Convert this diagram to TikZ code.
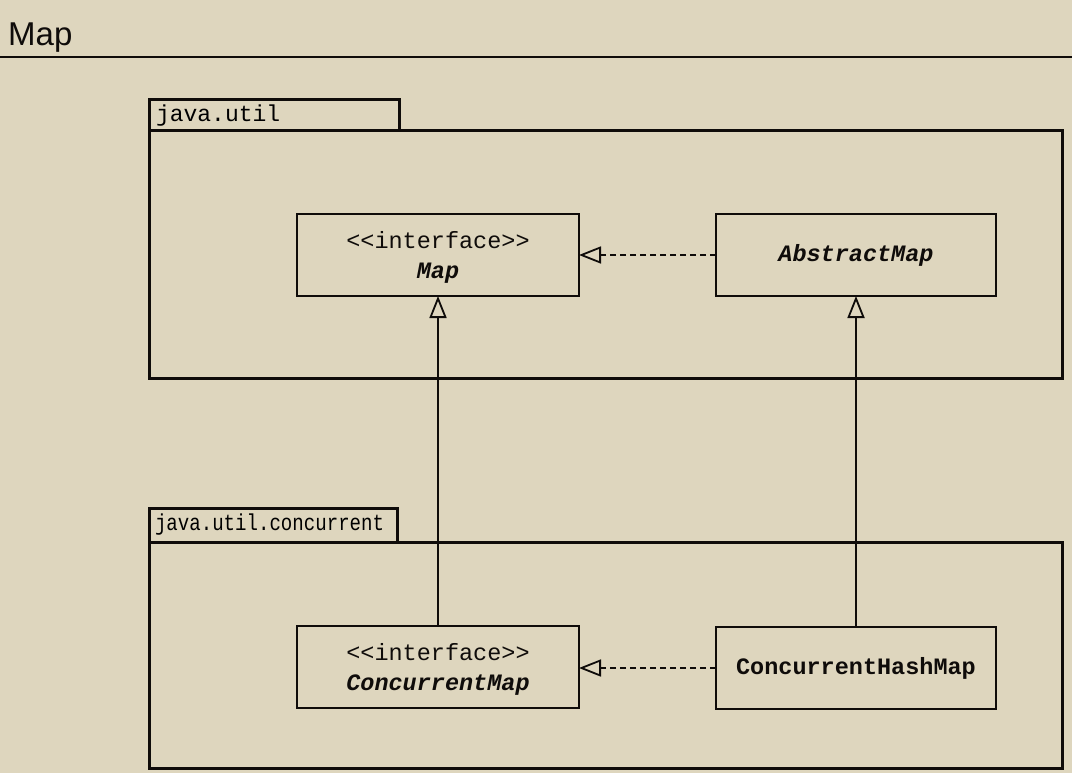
\documentclass[tikz,border=0pt]{standalone}
\usepackage{fontspec}
\setmainfont{Liberation Sans}
\newfontfamily\codefont{Liberation Mono}
\newfontfamily\codecond[FakeStretch=0.83]{Liberation Mono}
\usetikzlibrary{arrows.meta}
\definecolor{bg}{RGB}{222,214,190}
\definecolor{ink}{RGB}{15,12,10}
\tikzset{
  pkgtab/.style={draw=ink, line width=3pt, anchor=north west, inner xsep=0pt, inner ysep=0pt, outer sep=0pt,
    minimum height=#1, align=left},
  pkgbody/.style={draw=ink, line width=3pt, anchor=north west, inner sep=0pt, outer sep=0pt},
  classbox/.style={draw=ink, line width=2pt, anchor=north west, inner sep=0pt, outer sep=0pt,
    font=\codefont\fontsize{23.5}{30}\selectfont, align=center, text=ink},
  realize/.style={draw=ink, line width=1.7pt, dash pattern=on 6pt off 4pt,
    -{Triangle[open, length=22pt, width=17pt, line width=1.8pt]}},
  generalize/.style={draw=ink, line width=1.7pt,
    -{Triangle[open, length=22pt, width=17pt, line width=1.8pt]}},
}
\begin{document}
\begin{tikzpicture}[x=1pt, y=-1pt]
\useasboundingbox[fill=bg] (0,0) rectangle (1072,773);
% title
\node[anchor=base west, inner sep=0pt, font=\fontsize{33}{38}\selectfont, text=ink] (title) at (8,46) {Map};
\coordinate (hl) at (0,57);
\coordinate (hr) at (1072,57);
\draw[ink, line width=2pt] (hl) -- (hr);

% package java.util
\node[pkgbody, minimum width=913pt, minimum height=247pt] (p1) at (149,131) {};
\node[pkgtab=31pt, minimum width=250pt, text width=236pt, inner xsep=7pt,
  font=\codefont\fontsize{23}{28}\selectfont] (t1) at (149,100) {java.util};

% package java.util.concurrent
\node[pkgbody, minimum width=913pt, minimum height=226pt] (p2) at (149,542) {};
\node[pkgtab=34pt, minimum width=248pt, text width=236pt, inner xsep=6pt,
  font=\codecond\fontsize{23}{28}\selectfont] (t2) at (149,508) {java.util.concurrent};

% classes
\node[classbox, minimum width=282pt, minimum height=82pt] (map) at (297,214)
  {\strut{}<<interface>>\\\textbf{\textit{Map}}};
\node[classbox, minimum width=280pt, minimum height=82pt] (am) at (716,214)
  {\textbf{\textit{AbstractMap}}};
\node[classbox, minimum width=282pt, minimum height=82pt] (cm) at (297,626)
  {\strut{}<<interface>>\\\textbf{\textit{ConcurrentMap}}};
\node[classbox, minimum width=280pt, minimum height=82pt] (chm) at (716,627)
  {\textbf{ConcurrentHashMap}};

% connectors
\draw[realize] (am.west) -- (map.east);
\draw[realize] (chm.west) -- (chm.west -| cm.east);
\draw[generalize] (cm.north) -- (map.south);
\draw[generalize] (chm.north) -- (am.south);
\end{tikzpicture}
\end{document}
